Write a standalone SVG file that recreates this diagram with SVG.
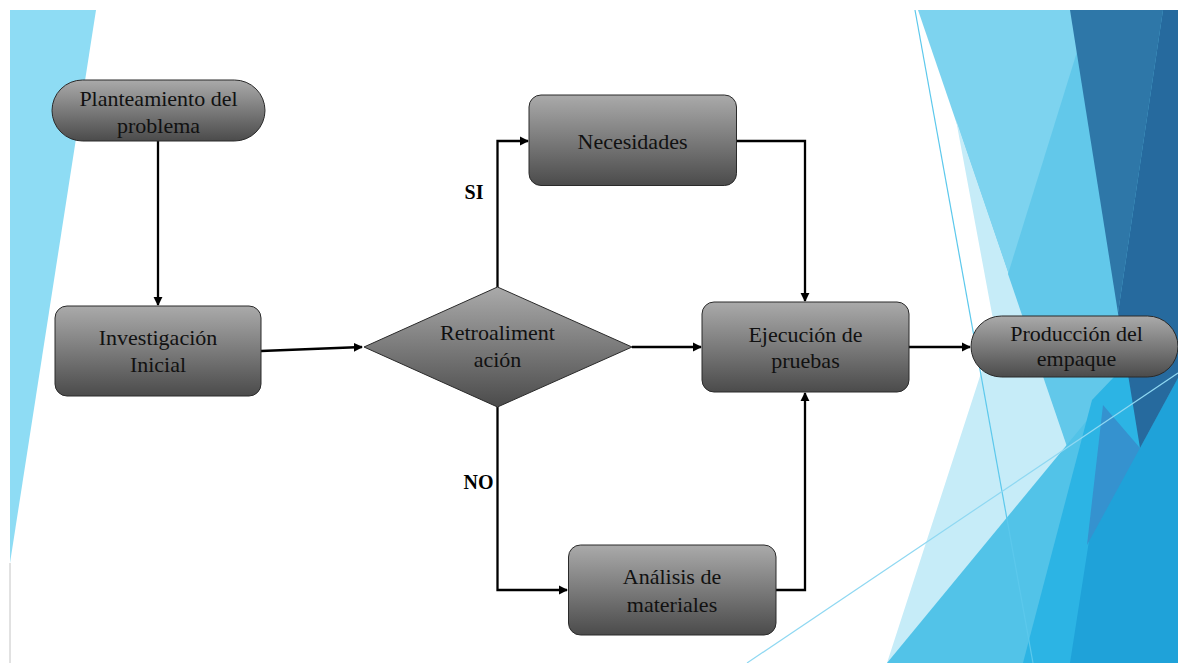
<svg xmlns="http://www.w3.org/2000/svg" width="1178" height="663" viewBox="0 0 1178 663">
  <defs>
    <linearGradient id="g" x1="0" y1="0" x2="0" y2="1">
      <stop offset="0" stop-color="#aaaaaa"/>
      <stop offset="1" stop-color="#4b4b4b"/>
    </linearGradient>
    <marker id="ah" viewBox="0 0 10 10" refX="9" refY="5" markerWidth="4" markerHeight="4" orient="auto" markerUnits="strokeWidth">
      <path d="M0,0 L10,5 L0,10 Z" fill="#000"/>
    </marker>
    <style>
      .node { fill: url(#g); stroke: #2a2a2a; stroke-width: 1; }
      .t { font-size: 22px; fill: #111; text-anchor: middle; }
      .lbl { font-size: 20px; font-weight: bold; fill: #000; text-anchor: middle; }
      .c { fill: none; stroke: #000; stroke-width: 2.3; }
    </style>
  </defs>

  <rect width="1178" height="663" fill="#ffffff"/>

  <g id="decor">
    <polygon points="10,10 96,10 10,563" fill="#8edcf4"/>
    <line x1="10" y1="563" x2="10" y2="663" stroke="#c4c4c4" stroke-width="1"/>
    <polygon points="918,10 1178,10 1178,663 1141,663" fill="#7dd3ef"/>
    <polygon points="956,120 995,330 887,663 1141,663" fill="#c6ecf8"/>
    <polygon points="1090,10 1178,10 1178,663 1141,663 1008,274" fill="#62c8ea"/>
    <polygon points="887,663 1178,310 1178,663" fill="#52c3e8"/>
    <polygon points="1023,663 1092,400 1178,310 1178,663" fill="#2cb4e4"/>
    <polygon points="1070,663 1100,470 1140,448 1178,378 1178,663" fill="#1fa2d9"/>
    <polygon points="1103,405 1140,448 1087,545" fill="#3592cf"/>
    <polygon points="1070,10 1163,10 1118,313" fill="#2e77a8"/>
    <polygon points="1163,10 1178,10 1178,378 1140,448 1118,313" fill="#266a9e"/>
    <line x1="915" y1="10" x2="1033" y2="663" stroke="#5cc8ec" stroke-width="1.2"/>
    <line x1="747" y1="663" x2="1178" y2="373" stroke="#8fd8f2" stroke-width="1.2"/>
  </g>

  <g id="connectors">
    <line class="c" x1="158" y1="141" x2="158" y2="305" marker-end="url(#ah)"/>
    <line class="c" x1="261" y1="351" x2="362" y2="347" marker-end="url(#ah)"/>
    <polyline class="c" points="497.5,287 497.5,141 528,141" marker-end="url(#ah)"/>
    <polyline class="c" points="497.5,407 497.5,590 567,590" marker-end="url(#ah)"/>
    <line class="c" x1="632" y1="347" x2="701" y2="347" marker-end="url(#ah)"/>
    <polyline class="c" points="737,141 805,141 805,301" marker-end="url(#ah)"/>
    <polyline class="c" points="776,590 805,590 805,393" marker-end="url(#ah)"/>
    <line class="c" x1="909" y1="347" x2="970" y2="347" marker-end="url(#ah)"/>
  </g>

  <g font-family="'Liberation Serif', 'DejaVu Serif', serif">
  <g id="planteamiento">
    <rect class="node" x="52" y="80" width="213" height="61" rx="30.5" ry="30.5"/>
    <text class="t" x="158.5" y="106">Planteamiento del</text>
    <text class="t" x="158.5" y="132.5">problema</text>
  </g>

  <g id="investigacion">
    <rect class="node" x="55" y="306" width="206" height="90" rx="12" ry="12"/>
    <text class="t" x="158" y="345">Investigación</text>
    <text class="t" x="158" y="371.5">Inicial</text>
  </g>

  <g id="retroalimentacion">
    <polygon class="node" points="364,347 497.5,287 632,347 497.5,407"/>
    <text class="t" x="497.5" y="340">Retroaliment</text>
    <text class="t" x="497.5" y="367">ación</text>
  </g>

  <g id="necesidades">
    <rect class="node" x="529" y="95" width="207.5" height="90.5" rx="12" ry="12"/>
    <text class="t" x="632.5" y="149">Necesidades</text>
  </g>

  <g id="ejecucion">
    <rect class="node" x="702" y="302" width="207" height="90" rx="12" ry="12"/>
    <text class="t" x="805.5" y="341.5">Ejecución de</text>
    <text class="t" x="805.5" y="367.5">pruebas</text>
  </g>

  <g id="produccion">
    <rect class="node" x="971" y="316" width="207" height="61" rx="30.5" ry="30.5"/>
    <text class="t" x="1076.5" y="341">Producción del</text>
    <text class="t" x="1076.5" y="365.5">empaque</text>
  </g>

  <g id="analisis">
    <rect class="node" x="568.5" y="545" width="207.5" height="90" rx="12" ry="12"/>
    <text class="t" x="672" y="583.5">Análisis de</text>
    <text class="t" x="672" y="611.5">materiales</text>
  </g>

  <g id="labels">
    <text class="lbl" x="474" y="199">SI</text>
    <text class="lbl" x="478.5" y="489">NO</text>
  </g>
  </g>
</svg>
